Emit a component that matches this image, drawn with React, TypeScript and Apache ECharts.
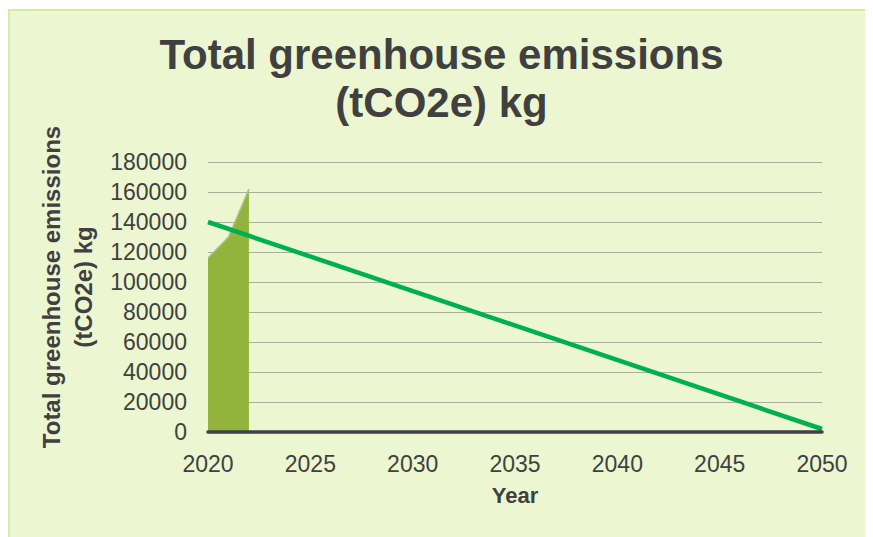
import React, { useEffect, useRef } from "react";
import * as echarts from "echarts";

const years: number[] = [2020, 2021, 2022];
const emissions: number[] = [116000, 130000, 162000];
const targetYears: number[] = [2020, 2050];
const targetValues: number[] = [140000, 2000];
const titleText = "Total greenhouse emissions\n(tCO2e) kg";
const yName = "Total greenhouse emissions\n(tCO2e) kg";
const xName = "Year";

const FONT = "'Liberation Sans', Arial, sans-serif";

export default function App() {
  const ref = useRef<HTMLDivElement>(null);
  useEffect(() => {
    if (!ref.current) return;
    document.body.style.overflow = "hidden";
    document.documentElement.style.overflow = "hidden";
    const chart = echarts.init(ref.current, null, { renderer: "svg" });
    chart.setOption({
      animation: false,
      backgroundColor: "#ecf6d1",
      title: {
        text: titleText,
        left: "center",
        top: 14,
        textStyle: {
          fontFamily: FONT,
          fontSize: 42,
          fontWeight: "bold",
          color: "#404040",
          lineHeight: 48,
        },
      },
      grid: { left: 198, right: 51, top: 151, bottom: 105 },
      xAxis: {
        type: "value",
        min: 2020,
        max: 2050,
        interval: 5,
        z: 5,
        axisLine: { show: true, lineStyle: { color: "#404040", width: 3.5 } },
        axisTick: { show: false },
        splitLine: { show: false },
        axisLabel: {
          fontFamily: FONT,
          fontSize: 23,
          color: "#404040",
          margin: 20,
          formatter: (v: number) => String(v),
        },
        name: xName,
        nameLocation: "middle",
        nameGap: 52,
        nameTextStyle: {
          fontFamily: FONT,
          fontSize: 22,
          fontWeight: "bold",
          color: "#404040",
        },
      },
      yAxis: {
        type: "value",
        min: 0,
        max: 180000,
        interval: 20000,
        axisLine: { show: false },
        axisTick: { show: false },
        splitLine: { show: true, lineStyle: { color: "#a9ad9b", width: 1 } },
        axisLabel: {
          fontFamily: FONT,
          fontSize: 23,
          color: "#404040",
          margin: 21,
          formatter: (v: number) => String(v),
        },
        name: yName,
        nameLocation: "middle",
        nameGap: 97,
        nameRotate: 90,
        nameTextStyle: {
          fontFamily: FONT,
          fontSize: 24,
          fontWeight: "bold",
          color: "#404040",
          lineHeight: 32,
          align: "center",
          padding: [0, 0, 0, 20],
        },
      },
      series: [
        {
          type: "line",
          data: years.map((y, i) => [y, emissions[i]]),
          symbol: "none",
          lineStyle: { color: "#b3bf94", width: 1.5 },
          areaStyle: { color: "#8db035", opacity: 0.95 },
          z: 2,
        },
        {
          type: "line",
          data: targetYears.map((y, i) => [y, targetValues[i]]),
          symbol: "none",
          lineStyle: { color: "#00b050", width: 4.5 },
          z: 3,
        },
      ],
    });
    return () => chart.dispose();
  }, []);
  return (
    <div
      ref={ref}
      style={{
        width: 863,
        height: 526,
        marginTop: 1,
        boxSizing: "content-box",
        borderLeft: "2px solid #d7eba0",
        borderTop: "2px solid #d7eba0",
      }}
    />
  );
}
